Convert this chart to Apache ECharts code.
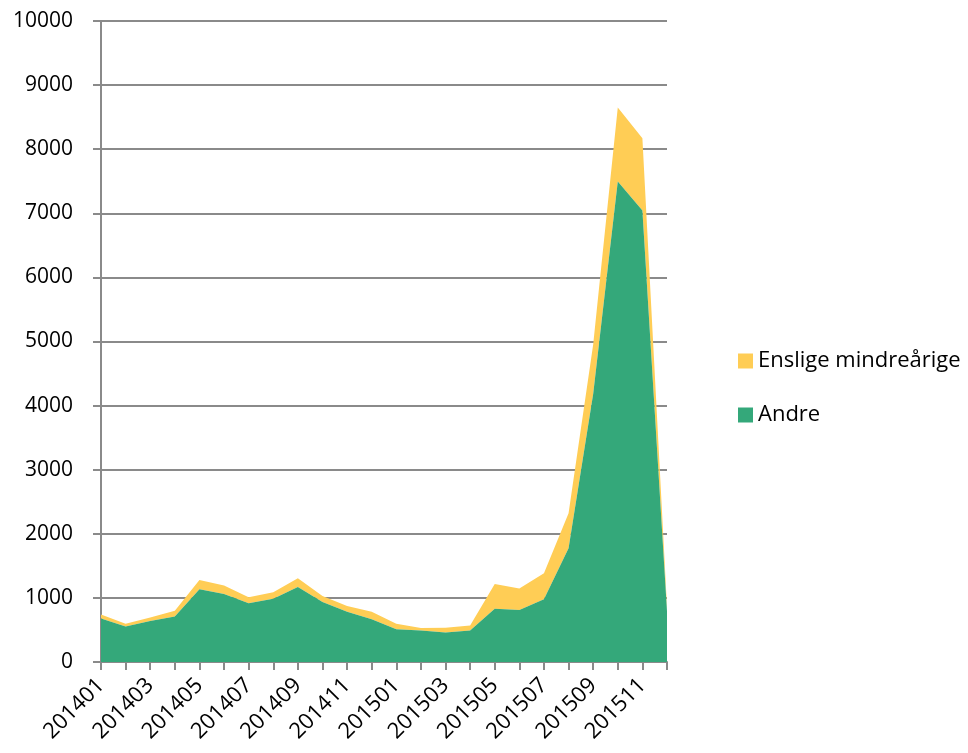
<!DOCTYPE html>
<html>
<head>
<meta charset="utf-8">
<script src="https://cdn.jsdelivr.net/npm/echarts@6/dist/echarts.min.js"></script>
<style>
  html, body { margin: 0; padding: 0; background: #fff; }
  #chart { width: 968px; height: 753px; }
</style>
</head>
<body>
<div id="chart"></div>
<script>
// Monthly arrivals, Jan 2014 – Dec 2015
const months = [
  '201401','201402','201403','201404','201405','201406','201407','201408','201409','201410','201411','201412',
  '201501','201502','201503','201504','201505','201506','201507','201508','201509','201510','201511','201512'
];
const andre = [680, 555, 640, 710, 1135, 1060, 915, 985, 1170, 935, 785, 665,
               510, 490, 460, 490, 830, 810, 980, 1775, 4180, 7495, 7045, 790];
const ensligeMindreaarige = [60, 40, 55, 90, 145, 135, 95, 105, 135, 95, 90, 120,
               85, 40, 75, 80, 385, 335, 405, 545, 775, 1155, 1125, 70];
const seriesNames = ['Enslige mindreårige', 'Andre'];

const font = '"Open Sans", sans-serif';
const gray = '#8a8a8a';

const chart = echarts.init(document.getElementById('chart'), null, { renderer: 'canvas' });
chart.setOption({
  animation: false,
  backgroundColor: '#fff',
  grid: { left: 101, right: 301, top: 21, bottom: 91, containLabel: false },
  legend: {
    orient: 'vertical',
    left: 733,
    top: 345,
    itemGap: 32,
    itemWidth: 15,
    itemHeight: 15,
    icon: 'rect',
    data: seriesNames,
    textStyle: { fontFamily: font, fontSize: 22, color: '#000' }
  },
  xAxis: {
    type: 'category',
    data: months,
    boundaryGap: false,
    axisLine: { lineStyle: { color: gray, width: 2 } },
    axisTick: { show: true, interval: 0, length: 8, lineStyle: { color: gray, width: 2 } },
    axisLabel: {
      interval: 1,
      rotate: 45,
      margin: 20,
      fontFamily: font,
      fontSize: 22,
      color: '#000'
    },
    splitLine: { show: false }
  },
  yAxis: {
    type: 'value',
    min: 0,
    max: 10000,
    interval: 1000,
    axisLine: { show: true, lineStyle: { color: gray, width: 2 } },
    axisTick: { show: true, length: 8, lineStyle: { color: gray, width: 2 } },
    axisLabel: {
      margin: 28,
      fontFamily: font,
      fontSize: 21,
      color: '#000',
      formatter: (v) => String(v)
    },
    splitLine: { lineStyle: { color: gray, width: 2 } }
  },
  series: [
    {
      name: 'Andre',
      type: 'line',
      stack: 'total',
      data: andre,
      symbol: 'none',
      lineStyle: { width: 0 },
      areaStyle: { color: '#34a87a', opacity: 1 },
      itemStyle: { color: '#34a87a' },
      z: 3
    },
    {
      name: 'Enslige mindreårige',
      type: 'line',
      stack: 'total',
      data: ensligeMindreaarige,
      symbol: 'none',
      lineStyle: { width: 0 },
      areaStyle: { color: '#ffcd55', opacity: 1 },
      itemStyle: { color: '#ffcd55' },
      z: 2
    }
  ]
});
</script>
</body>
</html>
